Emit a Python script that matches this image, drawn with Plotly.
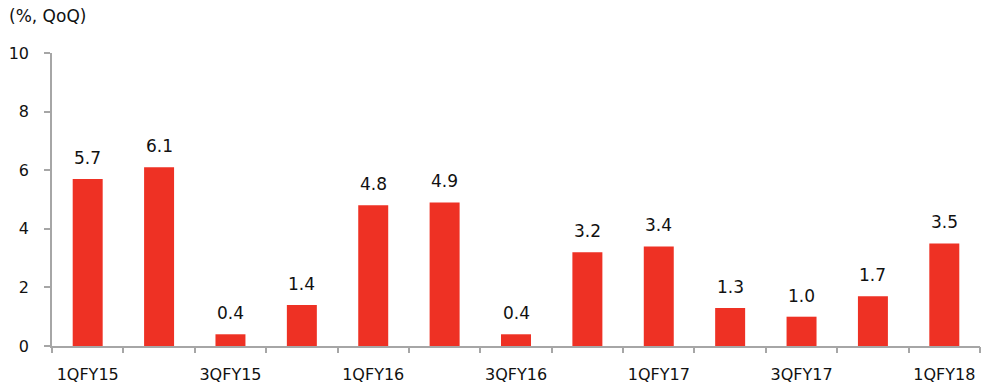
import plotly.graph_objects as go

categories = ["1QFY15", "2QFY15", "3QFY15", "4QFY15", "1QFY16", "2QFY16", "3QFY16",
              "4QFY16", "1QFY17", "2QFY17", "3QFY17", "4QFY17", "1QFY18"]
values = [5.7, 6.1, 0.4, 1.4, 4.8, 4.9, 0.4, 3.2, 3.4, 1.3, 1.0, 1.7, 3.5]
y_ticks = [0, 2, 4, 6, 8, 10]

FONT = "DejaVu Sans"
RED = "#EE3124"
TXT = "#111111"
idx = list(range(len(categories)))

fig = go.Figure()
fig.add_trace(go.Bar(x=idx, y=values, marker=dict(color=RED, line=dict(width=0)),
                     width=0.42, hoverinfo="skip"))
# invisible trace on secondary axis for boundary ticks
fig.add_trace(go.Scatter(x=[-0.5, len(categories) - 0.5], y=[0, 0], xaxis="x2",
                         mode="markers", marker=dict(opacity=0), hoverinfo="skip"))

for i, v in zip(idx, values):
    fig.add_annotation(x=i, y=v, text=f"{v:.1f}", showarrow=False, yanchor="bottom",
                       yshift=9, font=dict(family=FONT, size=17, color=TXT))

fig.add_annotation(text="(%, QoQ)", xref="paper", yref="paper", x=-0.049, y=1.0,
                   xanchor="left", yanchor="bottom", yshift=25, showarrow=False,
                   font=dict(family=FONT, size=17, color=TXT))

xr = [-0.5, len(categories) - 0.5]
fig.update_layout(
    width=983, height=385,
    margin=dict(l=52, r=3, t=53, b=39, autoexpand=False),
    plot_bgcolor="white", paper_bgcolor="white",
    showlegend=False,
    xaxis=dict(range=xr, tickmode="array", tickvals=idx[::2],
               ticktext=categories[::2], ticks="", showgrid=False,
               showline=True, linecolor="#A6A6A6", linewidth=1.5,
               ticklabelstandoff=13, automargin=False,
               tickfont=dict(family=FONT, size=16, color=TXT), zeroline=False),
    xaxis2=dict(range=xr, overlaying="x", side="bottom", tickmode="array",
                tickvals=[i - 0.5 for i in range(len(categories) + 1)],
                ticktext=[""] * (len(categories) + 1), ticks="outside",
                ticklen=6, tickwidth=1.5, tickcolor="#A6A6A6", showgrid=False,
                showline=False, zeroline=False, automargin=False),
    yaxis=dict(range=[0, 10], tickmode="array", tickvals=y_ticks, ticks="outside",
               ticklen=6, tickwidth=1.5, tickcolor="#A6A6A6", showgrid=False,
               showline=True, linecolor="#A6A6A6", linewidth=1.5, zeroline=False,
               ticklabelstandoff=12, automargin=False,
               tickfont=dict(family=FONT, size=16, color=TXT)),
)

fig.write_html("out.html")
